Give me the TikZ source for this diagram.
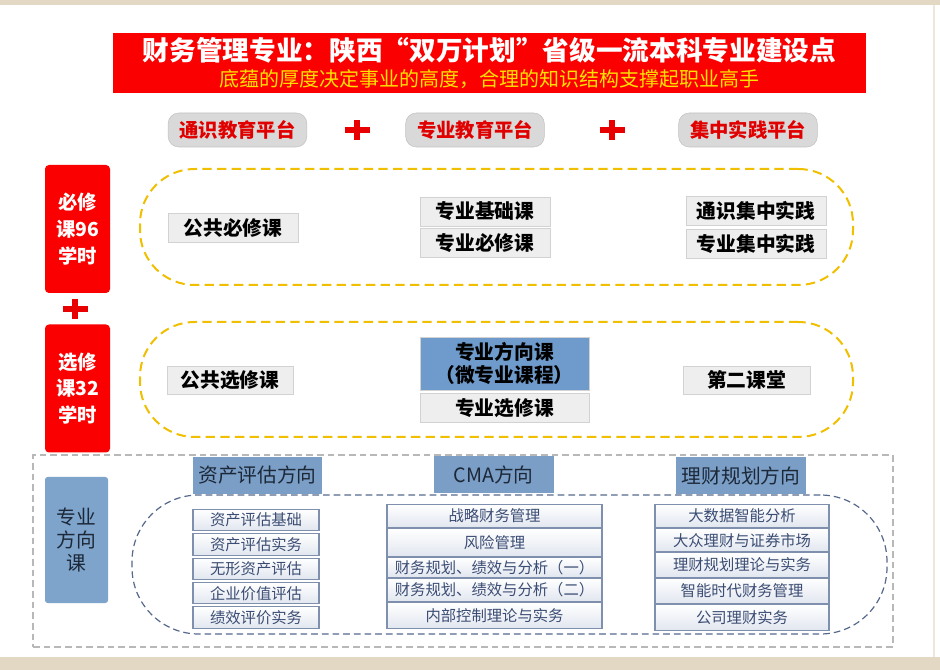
\documentclass[tikz,border=0pt]{standalone}
\usepackage{fontspec}
\setmainfont{Noto Sans CJK SC}
\usetikzlibrary{positioning,shapes}

\definecolor{bandc}{HTML}{E2D8C3}
\definecolor{headred}{HTML}{FA0000}
\definecolor{subyellow}{HTML}{FFE200}
\definecolor{pillgray}{HTML}{D9D9D9}
\definecolor{pillline}{HTML}{C2C2C2}
\definecolor{pillred}{HTML}{E00000}
\definecolor{plusred}{HTML}{E80000}
\definecolor{ringyellow}{HTML}{F0C000}
\definecolor{boxgray}{HTML}{EEEEEE}
\definecolor{boxline}{HTML}{D2D2D2}
\definecolor{microblue}{HTML}{6E9BCB}
\definecolor{areagray}{HTML}{B8B8B8}
\definecolor{sideblue}{HTML}{7EA4CC}
\definecolor{ringblue}{HTML}{56698C}
\definecolor{headblue}{HTML}{7B9EC6}
\definecolor{headtext}{HTML}{1C2838}
\definecolor{subjfill}{HTML}{E1E6EF}
\definecolor{subjline}{HTML}{7F8FAE}
\definecolor{subjtext}{HTML}{3B4D74}

\begin{document}
\begin{tikzpicture}
[
  x=0.75pt, y=-0.75pt,
  headbar/.style={rectangle, fill=headred, minimum width=564.75pt, minimum height=45pt},
  headtitle/.style={text=white, font=\fontsize{20}{24}\selectfont\bfseries, inner sep=0pt},
  headsub/.style={text=subyellow, font=\fontsize{15}{18}\selectfont, inner sep=0pt},
  platform/.style={rectangle, rounded corners=8pt, fill=pillgray, draw=pillline, text=pillred, font=\fontsize{14.5}{17}\selectfont\bfseries, minimum width=104pt, minimum height=25.5pt, inner sep=0pt},
  plusmark/.style={draw=plusred, line width=3.8pt},
  hourbox/.style={rectangle, rounded corners=3pt, fill=headred, text=white, align=center, font=\fontsize{14.5}{20}\selectfont\bfseries, minimum width=48.75pt, minimum height=96pt, inner sep=0pt},
  yring/.style={rectangle, rounded corners=41pt, draw=ringyellow, line width=1.5pt, dash pattern=on 7pt off 4pt, minimum width=534.75pt},
  coursebox/.style={rectangle, fill=boxgray, draw=boxline, font=\fontsize{14.8}{18}\selectfont\bfseries, inner sep=0pt, minimum height=21.75pt},
  microbox/.style={coursebox, fill=microblue, align=center, font=\fontsize{14.8}{17.25}\selectfont\bfseries},
  areabox/.style={rectangle, draw=areagray, dash pattern=on 5pt off 3pt, line width=0.8pt},
  dirside/.style={rectangle, rounded corners=2pt, fill=sideblue, text=headtext, align=center, font=\fontsize{14.8}{17.25}\selectfont, minimum width=47.25pt, minimum height=94.5pt},
  bring/.style={rectangle, rounded corners=50pt, draw=ringblue, line width=0.9pt, dash pattern=on 5pt off 3pt},
  dirhead/.style={rectangle, fill=headblue, text=headtext, font=\fontsize{14.8}{18}\selectfont, minimum height=27.75pt, inner sep=0pt},
  subject/.style={rectangle, top color=white, bottom color=subjfill, draw=subjline, line width=0.8pt, text=subjtext, font=\fontsize{11.5}{13}\selectfont, inner sep=0pt}
]
 \useasboundingbox (0,0) rectangle (940,670);
 \fill[white] (0,0) rectangle (940,670);
 \fill[bandc] (0,0) rectangle (940,5);
 \fill[bandc] (0,657) rectangle (940,670);
 \draw[bandc!60, line width=1pt] (934,5) -- (934,657);

 \node[headbar] (head) at (489.5,63) {};
 \node[headtitle] (htitle) at (489.5,50) {财务管理专业：陕西“双万计划”省级一流本科专业建设点};
 \node[headsub] (hsub) at (489.5,79) {底蕴的厚度决定事业的高度，合理的知识结构支撑起职业高手};

 \node[platform] (genplat) at (237.5,130) {通识教育平台};
 \node[platform] (majplat) at (475,130) {专业教育平台};
 \node[platform] (pracplat) at (748,130) {集中实践平台};

 \foreach \px/\py in {357/130, 612/130, 75/309}
   \draw[plusmark] (\px-12.5,\py) -- (\px+12.5,\py) (\px,\py-10) -- (\px,\py+10);

 \node[hourbox] (reqhours) at (77.5,229) {必修\\课96\\学时};
 \node[hourbox] (elhours) at (77.5,388.5) {选修\\课32\\学时};

 \node[yring, minimum height=87pt] (reqring) at (496.5,227) {};
 \node[yring, minimum height=86.25pt] (elring) at (496.5,379.5) {};

 \node[coursebox, minimum width=97.5pt] (pubreq) at (233,228) {公共必修课};
 \node[coursebox, minimum width=97.5pt] (majbase) at (485,211.5) {专业基础课};
 \node[coursebox, minimum width=97.5pt, below=1.5pt of majbase] (majreq) {专业必修课};
 \node[coursebox, minimum width=105pt] (genprac) at (756,210.5) {通识集中实践};
 \node[coursebox, minimum width=105pt, below=3pt of genprac] (majprac) {专业集中实践};

 \node[coursebox, minimum width=94.5pt, minimum height=21pt] (pubel) at (230,380) {公共选修课};
 \node[microbox, minimum width=126.75pt, minimum height=39.75pt] (micro) at (504.5,363.5) {专业方向课\\（微专业课程）};
 \node[coursebox, minimum width=126.75pt, below=2pt of micro] (majel) {专业选修课};
 \node[coursebox, minimum width=95.25pt, minimum height=21pt] (second) at (746.5,380) {第二课堂};

 \node[areabox, minimum width=645pt, minimum height=144pt] (area) at (463,551) {};
 \node[dirside] (dirside) at (76.5,540) {专业\\方向\\课};
 \node[bring, minimum width=566.25pt, minimum height=104.25pt] (dirring) at (509.5,564.5) {};

 \node[dirhead, minimum width=96.75pt] (assetdir) at (257.5,475.5) {资产评估方向};
 \node[dirhead, minimum width=90pt] (cmadir) at (493.5,475) {CMA方向};
 \node[dirhead, minimum width=97.5pt] (findir) at (741,475.5) {理财规划方向};

 \node[subject, minimum width=94.5pt, minimum height=16pt] (a1) at (256,520) {资产评估基础};
 \node[subject, minimum width=94.5pt, minimum height=16pt, below=1.5pt of a1] (a2) {资产评估实务};
 \node[subject, minimum width=94.5pt, minimum height=16pt, below=1.5pt of a2] (a3) {无形资产评估};
 \node[subject, minimum width=94.5pt, minimum height=16pt, below=1.5pt of a3] (a4) {企业价值评估};
 \node[subject, minimum width=94.5pt, minimum height=16pt, below=1.5pt of a4] (a5) {绩效评价实务};

 \node[subject, minimum width=161.25pt, minimum height=17.4pt] (m1) at (494.5,516) {战略财务管理};
 \node[subject, minimum width=161.25pt, minimum height=21.15pt, below=0pt of m1] (m2) {风险管理};
 \node[subject, minimum width=161.25pt, minimum height=14.4pt, below=0pt of m2] (m3) {财务规划、绩效与分析（一）};
 \node[subject, minimum width=161.25pt, minimum height=17.4pt, below=0pt of m3] (m4) {财务规划、绩效与分析（二）};
 \node[subject, minimum width=161.25pt, minimum height=19.65pt, below=0pt of m4] (m5) {内部控制理论与实务};

 \node[subject, minimum width=130.5pt, minimum height=17.4pt] (r1) at (742,516) {大数据智能分析};
 \node[subject, minimum width=130.5pt, minimum height=17.4pt, below=0pt of r1] (r2) {大众理财与证券市场};
 \node[subject, minimum width=130.5pt, minimum height=18.15pt, below=0pt of r2] (r3) {理财规划理论与实务};
 \node[subject, minimum width=130.5pt, minimum height=18.9pt, below=0pt of r3] (r4) {智能时代财务管理};
 \node[subject, minimum width=130.5pt, minimum height=19.65pt, below=0pt of r4] (r5) {公司理财实务};
\end{tikzpicture}
\end{document}
